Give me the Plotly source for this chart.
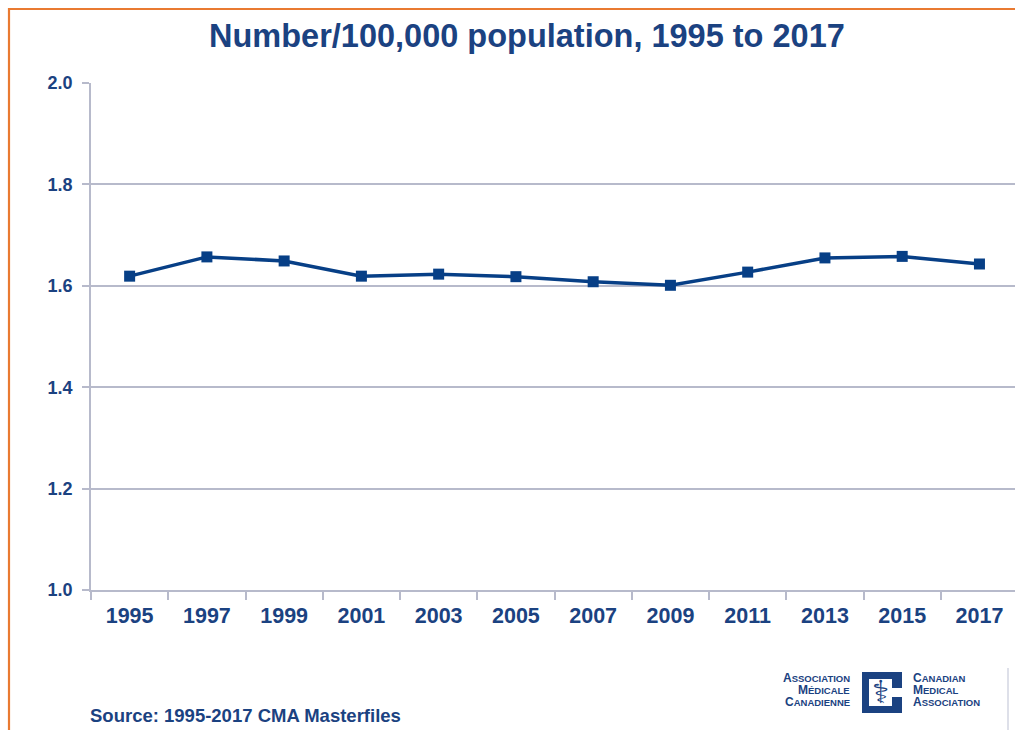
import plotly.graph_objects as go

years = ["1995", "1997", "1999", "2001", "2003", "2005", "2007", "2009", "2011", "2013", "2015", "2017"]
rate = [1.619, 1.657, 1.649, 1.619, 1.623, 1.618, 1.608, 1.601, 1.627, 1.655, 1.658, 1.643]
y_ticks = [1.0, 1.2, 1.4, 1.6, 1.8, 2.0]
y_tick_text = ["1.0", "1.2", "1.4", "1.6", "1.8", "2.0"]

W, H = 1015, 730
L, R, T, B = 91, 1015, 83, 590
NAVY = "#1B4281"
LINE = "#073F86"
GRID = "#B7BACB"
ORANGE = "#E97A31"
FONT = "Liberation Sans, Arial, sans-serif"


def px(x):
    return (x - L) / (R - L)


def py(y):
    return (B - y) / (B - T)


fig = go.Figure()
fig.add_trace(go.Scatter(
    x=years, y=rate, mode="lines+markers",
    line=dict(color=LINE, width=3.5),
    marker=dict(symbol="square", size=11, color=LINE),
    hoverinfo="x+y", showlegend=False,
))

fig.update_layout(
    width=W, height=H,
    margin=dict(l=L, r=W - R, t=T, b=H - B),
    paper_bgcolor="white", plot_bgcolor="white",
    font=dict(family=FONT, color=NAVY),
    xaxis=dict(
        type="category", range=[-0.5, 11.46],
        showline=True, linecolor=GRID, linewidth=1.5,
        ticks="outside", tickson="boundaries", ticklen=8, tickcolor=GRID, tickwidth=1.5,
        showgrid=False,
        tickfont=dict(family=FONT, size=21.5, color=NAVY, weight="bold"),
        ticklabelstandoff=5,
    ),
    yaxis=dict(
        range=[1.0, 2.0], tickvals=y_ticks, ticktext=y_tick_text,
        showline=True, linecolor=GRID, linewidth=1.5,
        ticks="outside", ticklen=7, tickcolor=GRID, tickwidth=1.5,
        showgrid=True, gridcolor=GRID, gridwidth=1.5,
        zeroline=False,
        tickfont=dict(family=FONT, size=18, color=NAVY, weight="bold"),
        ticklabelstandoff=6,
    ),
)

annotations = [
    dict(text="<b>Number/100,000 population, 1995 to 2017</b>", x=px(527), y=py(36),
         xanchor="center", yanchor="middle", font=dict(size=32.5, color=NAVY, family=FONT)),
    dict(text="<b>Source: 1995-2017 CMA Masterfiles</b>", x=px(88), y=py(715),
         xanchor="left", yanchor="middle", font=dict(size=18.5, color=NAVY, family=FONT)),
]


def sc(word):
    return "<b>" + word[0] + "<span style='font-size:9.5px'>" + word[1:] + "</span></b>"


left_words = ["ASSOCIATION", "MÉDICALE", "CANADIENNE"]
right_words = ["CANADIAN", "MEDICAL", "ASSOCIATION"]
line_y = [678, 690, 702]
for w, yy in zip(left_words, line_y):
    annotations.append(dict(text=sc(w), x=px(852), y=py(yy), xanchor="right", yanchor="middle",
                            font=dict(size=12, color=NAVY, family=FONT)))
for w, yy in zip(right_words, line_y):
    annotations.append(dict(text=sc(w), x=px(911), y=py(yy), xanchor="left", yanchor="middle",
                            font=dict(size=12, color=NAVY, family=FONT)))
annotations.append(dict(text="⚕", x=px(880), y=py(692), xanchor="center", yanchor="middle",
                        font=dict(size=32, color=NAVY, family="DejaVu Sans")))

for a in annotations:
    a.update(xref="paper", yref="paper", showarrow=False)
fig.update_layout(annotations=annotations)


def pth(points):
    s = "M " + " L ".join(f"{px(x):.5f},{py(y):.5f}" for x, y in points) + " Z"
    return s


logo = [(862, 672), (902, 672), (902, 688), (892, 688), (892, 679), (869, 679),
        (869, 706), (892, 706), (892, 697), (902, 697), (902, 713), (862, 713)]

shapes = [
    dict(type="line", x0=px(9), x1=px(1015), y0=py(9), y1=py(9), line=dict(color=ORANGE, width=2.2)),
    dict(type="line", x0=px(9), x1=px(9), y0=py(8), y1=py(730), line=dict(color=ORANGE, width=2.2)),
    dict(type="line", x0=px(1008), x1=px(1008), y0=py(668), y1=py(730), line=dict(color="#D3D6E2", width=1.5)),
    dict(type="path", path=pth(logo), fillcolor=NAVY, line=dict(width=0)),
]
for s in shapes:
    s.update(xref="paper", yref="paper", layer="above")
fig.update_layout(shapes=shapes)

fig.write_html("out.html")
